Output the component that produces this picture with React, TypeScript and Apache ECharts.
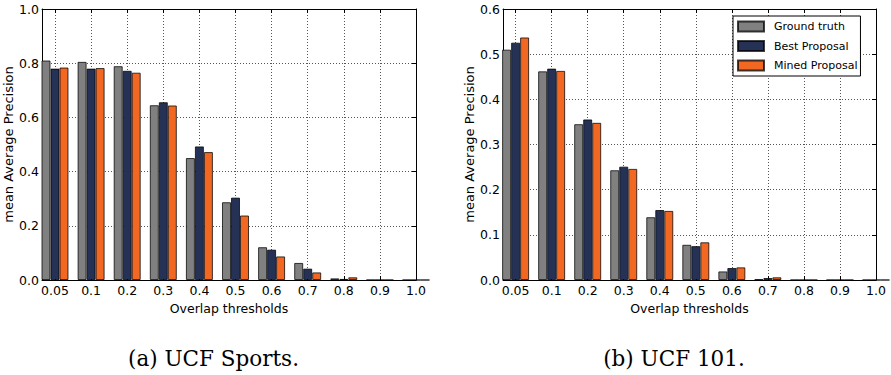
import React, { useEffect, useRef } from "react";
import * as echarts from "echarts";

const categories = ["0.05", "0.1", "0.2", "0.3", "0.4", "0.5", "0.6", "0.7", "0.8", "0.9", "1.0"];
const seriesNames = ["Ground truth", "Best Proposal", "Mined Proposal"];

const sportsGroundTruth = [0.81, 0.805, 0.789, 0.645, 0.45, 0.287, 0.121, 0.063, 0.006, 0, 0];
const sportsBest = [0.78, 0.78, 0.772, 0.656, 0.493, 0.304, 0.112, 0.042, 0.004, 0, 0];
const sportsMined = [0.784, 0.782, 0.765, 0.644, 0.472, 0.238, 0.087, 0.028, 0.01, 0, 0];

const ucf101GroundTruth = [0.51, 0.462, 0.345, 0.243, 0.139, 0.078, 0.019, 0.0015, 0, 0, 0];
const ucf101Best = [0.5255, 0.468, 0.3555, 0.251, 0.155, 0.075, 0.0266, 0.0044, 0, 0, 0];
const ucf101Mined = [0.537, 0.463, 0.348, 0.246, 0.153, 0.0835, 0.028, 0.006, 0, 0, 0];

const sportsYTicks = { min: 0, max: 1.0, interval: 0.2 };
const ucf101YTicks = { min: 0, max: 0.6, interval: 0.1 };

const captions = ["(a) UCF Sports.", "(b) UCF 101."];
const xAxisTitle = "Overlap thresholds";
const yAxisTitle = "mean Average Precision";

const colors = ["#808080", "#253255", "#f26722"];
const FONT = "DejaVu Sans";

export default function App() {
  const ref = useRef<HTMLDivElement>(null);

  useEffect(() => {
    if (!ref.current) return;
    const chart = echarts.init(ref.current, undefined, { renderer: "svg" });

    const grids = [
      { left: 42, top: 9, width: 374, height: 271, xmin: -0.36, y: sportsYTicks, nameGap: 26, capX: 213.5 },
      { left: 503, top: 9, width: 373, height: 271, xmin: -0.35, y: ucf101YTicks, nameGap: 26, capX: 674 },
    ];

    const xLabelFmt = (v: number) => {
      const r = Math.round(v);
      return Math.abs(v - r) < 1e-6 && r >= 0 && r < categories.length ? categories[r] : "";
    };

    const axisLine = { show: true, onZero: false, lineStyle: { color: "#000", width: 1 } };
    const tick = { show: true, inside: true, length: 4, lineStyle: { color: "#000", width: 1 } };
    const split = { show: true, lineStyle: { color: "#555", width: 1, type: [1, 2] } };

    const xAxis: any[] = [];
    const yAxis: any[] = [];
    grids.forEach((g, gi) => {
      const xBase = {
        type: "value",
        gridIndex: gi,
        min: g.xmin,
        max: categories.length - 1,
        splitNumber: 10,
        minInterval: 1,
        maxInterval: 1,
        axisLine,
        axisTick: tick,
      };
      xAxis.push({
        ...xBase,
        position: "bottom",
        splitLine: split,
        axisLabel: { formatter: xLabelFmt, color: "#000", fontFamily: FONT, fontSize: 12.5, margin: 4 },
        name: xAxisTitle,
        nameLocation: "middle",
        nameGap: 16,
        nameTextStyle: { color: "#000", fontFamily: FONT, fontSize: 12.5 },
      });
      xAxis.push({
        ...xBase,
        position: "top",
        splitLine: { show: false },
        axisLabel: { show: false },
      });
      const yBase = {
        type: "value",
        gridIndex: gi,
        min: g.y.min,
        max: g.y.max,
        interval: g.y.interval,
        axisLine,
        axisTick: tick,
      };
      yAxis.push({
        ...yBase,
        position: "left",
        splitLine: split,
        axisLabel: {
          formatter: (v: number) => v.toFixed(1),
          color: "#000",
          fontFamily: FONT,
          fontSize: 12.5,
          margin: 3,
        },
        name: yAxisTitle,
        nameLocation: "middle",
        nameGap: g.nameGap,
        nameTextStyle: { color: "#000", fontFamily: FONT, fontSize: 13 },
      });
      yAxis.push({
        ...yBase,
        position: "right",
        splitLine: { show: false },
        axisLabel: { show: false },
      });
    });

    const datasets = [
      [sportsGroundTruth, sportsBest, sportsMined],
      [ucf101GroundTruth, ucf101Best, ucf101Mined],
    ];
    const series: any[] = [];
    datasets.forEach((group, gi) => {
      group.forEach((vals, si) => {
        series.push({
          type: "bar",
          name: seriesNames[si],
          xAxisIndex: gi * 2,
          yAxisIndex: gi * 2,
          barWidth: 9,
          barGap: "0%",
          data: vals.map((v, i) => [i, v]),
          itemStyle: { color: colors[si], borderColor: "rgba(0,0,0,0.75)", borderWidth: 1 },
          emphasis: { disabled: true },
        });
      });
    });

    chart.setOption({
      animation: false,
      backgroundColor: "#fff",
      grid: grids.map((g) => ({ left: g.left, top: g.top, width: g.width, height: g.height, containLabel: false })),
      xAxis,
      yAxis,
      series,
      legend: {
        data: seriesNames,
        orient: "vertical",
        left: 733,
        top: 16,
        itemWidth: 26,
        itemHeight: 10,
        itemGap: 7.5,
        padding: [4.5, 3, 4.5, 4],
        borderColor: "#000",
        borderWidth: 1,
        backgroundColor: "#fff",
        icon: "rect",
        selectedMode: false,
        textStyle: { color: "#000", fontFamily: FONT, fontSize: 11, padding: [0, 0, 0, 5] },
      },
      graphic: grids.map((g, gi) => ({
        type: "text",
        x: g.capX,
        y: 358,
        style: {
          text: captions[gi],
          fontFamily: "DejaVu Serif",
          fontSize: 21.5,
          fill: "#000",
          textAlign: "center",
          textVerticalAlign: "middle",
        },
      })),
    });

    return () => chart.dispose();
  }, []);

  return (
    <div
      ref={ref}
      style={{ position: "fixed", left: 0, top: 0, width: 891, height: 375, background: "#fff" }}
    />
  );
}
